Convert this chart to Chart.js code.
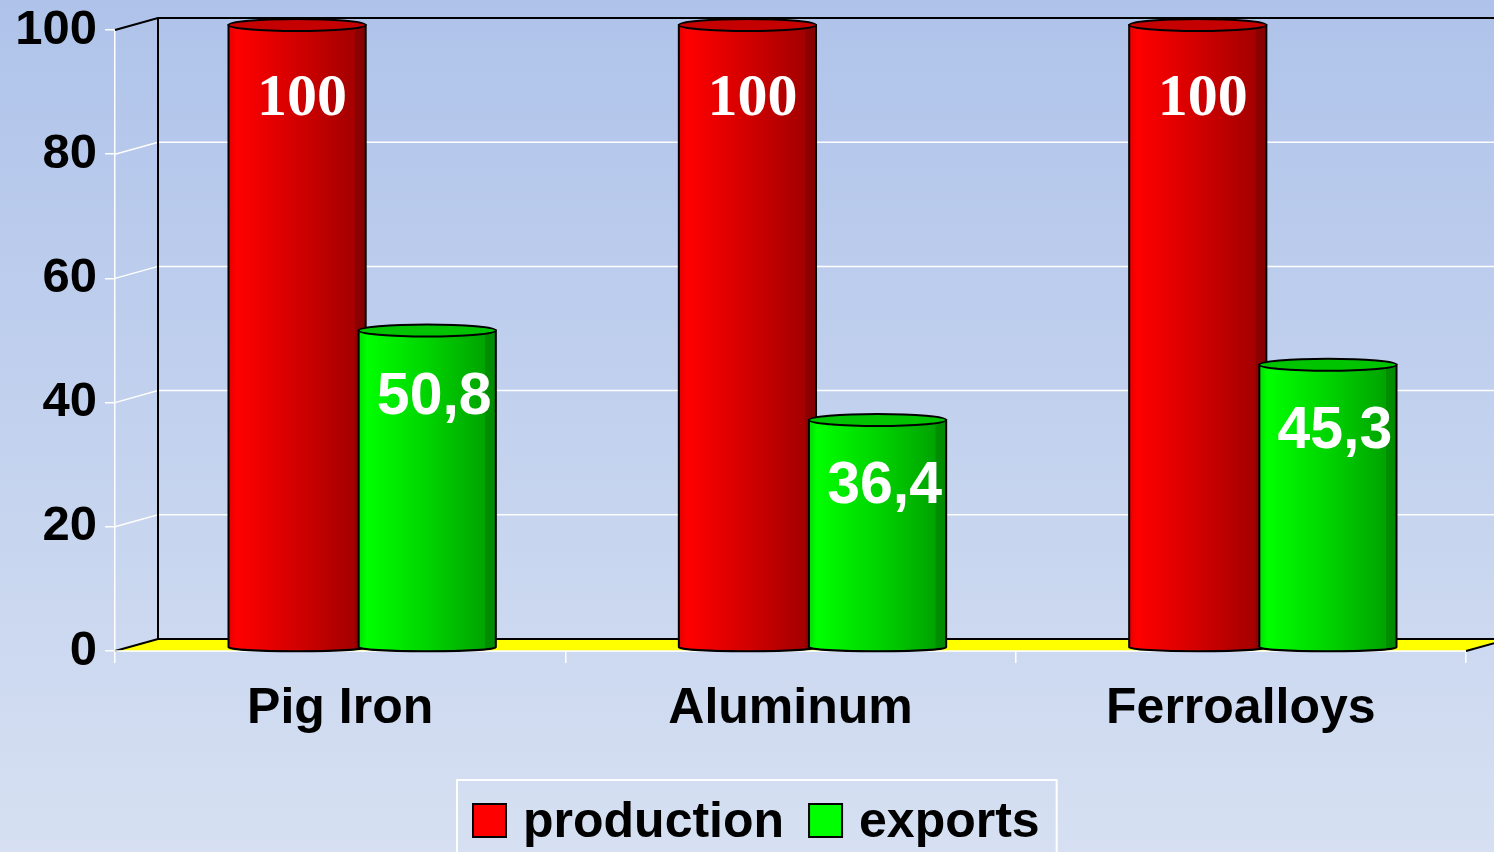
<!DOCTYPE html>
<html>
<head>
<meta charset="utf-8">
<title>Production and exports</title>
<script src="https://cdn.jsdelivr.net/npm/chart.js@4.4.1/dist/chart.umd.min.js"></script>
<style>
    html, body { margin: 0; padding: 0; background: #c4d1ee; }
    #wrap { position: relative; width: 1494px; height: 852px; }
</style>
</head>
<body>
<div id="wrap"><canvas id="chart-prod"></canvas></div>
<script>
/* --- Data --- */
var categories = ['Pig Iron', 'Aluminum', 'Ferroalloys'];
var production = [100, 100, 100];
var exportsShare = [50.8, 36.4, 45.3];
var seriesNames = ['production', 'exports'];
var yMin = 0, yMax = 100, yStep = 20;

(function () {
    'use strict';

    Chart.defaults.font.family = "'Liberation Sans', Arial, sans-serif";
    Chart.defaults.color = '#000';

    var red = '#ff0000';
    var green = '#00ff00';

    /* 3D depth of wall / floor, and the mid-depth shift of the bars */
    var DX = 43, DY = -12;
    var SX = 22, SY = -3;

    var redStops = [[0, '#e60000'], [0.06, '#ff0000'], [0.5, '#d20000'], [0.92, '#a40000'], [0.925, '#8c0000'], [1, '#880000']];
    var greenStops = [[0, '#00e000'], [0.06, '#00ff00'], [0.5, '#00d400'], [0.92, '#00a400'], [0.925, '#008e00'], [1, '#008a00']];

    var background = {
        id: 'background',
        beforeDraw: function (chart) {
            var c = chart.ctx;
            var g = c.createLinearGradient(0, 0, 0, chart.height);
            g.addColorStop(0, '#afc3ea');
            g.addColorStop(1, '#d6e0f2');
            c.save();
            c.fillStyle = g;
            c.fillRect(0, 0, chart.width, chart.height);
            c.restore();
        }
    };

    var walls = {
        id: 'walls',
        beforeDatasetsDraw: function (chart) {
            var c = chart.ctx, a = chart.chartArea, ys = chart.scales.y;
            var L = a.left, B = a.bottom, W = chart.width;
            c.save();

            // grid lines on the back wall
            ys.ticks.forEach(function (t) {
                if (t.value === yMin) return;
                var py = ys.getPixelForValue(t.value);
                c.beginPath();
                c.moveTo(L, py);
                c.lineTo(L + DX, py + DY);
                c.lineTo(W, py + DY);
                c.lineWidth = t.value === yMax ? 2 : 1.5;
                c.strokeStyle = t.value === yMax ? '#000' : '#fff';
                c.stroke();
            });

            // left wall edge
            c.beginPath();
            c.moveTo(L + DX, ys.getPixelForValue(yMax) + DY);
            c.lineTo(L + DX, B + DY);
            c.lineWidth = 2;
            c.strokeStyle = '#000';
            c.stroke();

            // yellow floor
            c.beginPath();
            c.moveTo(L, B);
            c.lineTo(L + DX, B + DY);
            c.lineTo(a.right + DX, B + DY);
            c.lineTo(a.right, B);
            c.closePath();
            c.fillStyle = '#ffff00';
            c.fill();
            c.beginPath();
            c.moveTo(L, B);
            c.lineTo(L + DX, B + DY);
            c.lineTo(a.right + DX, B + DY);
            c.moveTo(a.right, B);
            c.lineTo(a.right + DX, B + DY);
            c.lineWidth = 2;
            c.strokeStyle = '#000';
            c.stroke();
            c.beginPath();
            c.moveTo(L, B);
            c.lineTo(a.right, B);
            c.lineWidth = 1.5;
            c.strokeStyle = '#fff';
            c.stroke();
            c.restore();

            // bars sit in the middle of the depth
            c.save();
            c.translate(SX, SY);
        },
        afterDatasetsDraw: function (chart) {
            var c = chart.ctx;
            [0, 1].forEach(function (di) {
                var meta = chart.getDatasetMeta(di);
                meta.data.forEach(function (el) {
                    cylinder(c, el, di === 0 ? redStops : greenStops, di === 0 ? '#c40000' : '#00c400');
                });
            });
            c.restore();

            // value labels
            c.save();
            c.fillStyle = '#fff';
            c.textAlign = 'center';
            c.textBaseline = 'alphabetic';
            [0, 1].forEach(function (di) {
                var meta = chart.getDatasetMeta(di);
                var vals = chart.data.datasets[di].data;
                c.font = di === 0 ? "bold 60px 'Liberation Serif', 'Times New Roman', serif"
                                  : "bold 59px 'Liberation Sans', Arial, sans-serif";
                meta.data.forEach(function (el, i) {
                    var txt = String(vals[i]).replace('.', ',');
                    var x = el.x + SX + (di === 0 ? 5 : 7);
                    var y = el.y + (di === 0 ? 85 : 78);
                    c.fillText(txt, x, y);
                });
            });
            c.restore();
        },
        afterDraw: function (chart) {
            // legend with frame
            var c = chart.ctx;
            var ds = chart.data.datasets;
            c.save();
            c.font = "bold 50px 'Liberation Sans', Arial, sans-serif";
            var box = 33, gapIn = 17, gapItem = 25, padL = 16, padR = 17;
            var w0 = c.measureText(ds[0].label).width;
            var w1 = c.measureText(ds[1].label).width;
            var total = padL + box + gapIn + w0 + gapItem + box + gapIn + w1 + padR;
            var left = Math.round(757 - total / 2);
            var top = 780;
            c.strokeStyle = '#fff';
            c.lineWidth = 2;
            c.strokeRect(left, top, total, 90);

            var x = left + padL;
            var base = 837;
            ds.forEach(function (d, i) {
                c.fillStyle = d.backgroundColor;
                c.fillRect(x, base - box, box, box);
                c.strokeStyle = '#000';
                c.lineWidth = 2;
                c.strokeRect(x, base - box, box, box);
                c.fillStyle = '#000';
                c.textAlign = 'left';
                c.textBaseline = 'alphabetic';
                c.fillText(d.label, x + box + gapIn, base);
                x += box + gapIn + (i === 0 ? w0 : w1) + gapItem;
            });
            c.restore();
        }
    };

    function cylinder(c, el, stops, capColor) {
        var p = el.getProps(['x', 'y', 'base', 'width'], true);
        var rx = p.width / 2;
        var l = p.x - rx, r = p.x + rx;
        var top = p.y - 2, bot = p.base;
        var g = c.createLinearGradient(l, 0, r, 0);
        stops.forEach(function (s) { g.addColorStop(s[0], s[1]); });
        c.beginPath();
        c.moveTo(l, top);
        c.lineTo(l, bot);
        c.ellipse(p.x, bot, rx, 4, 0, Math.PI, 0, true);
        c.lineTo(r, top);
        c.closePath();
        c.fillStyle = g;
        c.fill();
        c.lineWidth = 2;
        c.strokeStyle = '#000';
        c.stroke();

        c.beginPath();
        c.ellipse(p.x, top, rx, 6, 0, 0, Math.PI * 2);
        c.fillStyle = capColor;
        c.fill();
        c.stroke();
    }

    new Chart(document.getElementById('chart-prod'), {
        type: 'bar',
        data: {
            labels: categories,
            datasets: [
                {
                    label: seriesNames[0],
                    data: production,
                    backgroundColor: red,
                    borderWidth: 0,
                    barPercentage: 1.054,
                    categoryPercentage: 0.578
                },
                {
                    label: seriesNames[1],
                    data: exportsShare,
                    backgroundColor: green,
                    borderWidth: 0,
                    barPercentage: 1.054,
                    categoryPercentage: 0.578
                }
            ]
        },
        options: {
            responsive: true,
            maintainAspectRatio: false,
            animation: false,
            layout: { padding: { top: 30, right: 28, bottom: 81, left: 0 } },
            plugins: {
                legend: { display: false },
                tooltip: { enabled: false }
            },
            scales: {
                x: {
                    grid: {
                        offset: true,
                        drawOnChartArea: false,
                        drawTicks: true,
                        tickLength: 12,
                        color: '#fff',
                        lineWidth: 1.5
                    },
                    border: { color: '#fff', width: 1.5 },
                    ticks: {
                        font: { size: 50, weight: 'bold' },
                        color: '#000',
                        padding: 16,
                        maxRotation: 0
                    },
                    afterFit: function (scale) { scale.height = 120; }
                },
                y: {
                    min: yMin,
                    max: yMax,
                    grid: {
                        drawOnChartArea: false,
                        drawTicks: true,
                        tickLength: 10,
                        color: '#fff',
                        lineWidth: 1.5
                    },
                    border: { color: '#fff', width: 1.5 },
                    ticks: {
                        stepSize: yStep,
                        font: { size: 49, weight: 'bold', lineHeight: 0.8 },
                        color: '#000',
                        padding: 8
                    },
                    afterFit: function (scale) { scale.width = 115; }
                }
            }
        },
        plugins: [background, walls]
    });
})();
</script>
</body>
</html>
